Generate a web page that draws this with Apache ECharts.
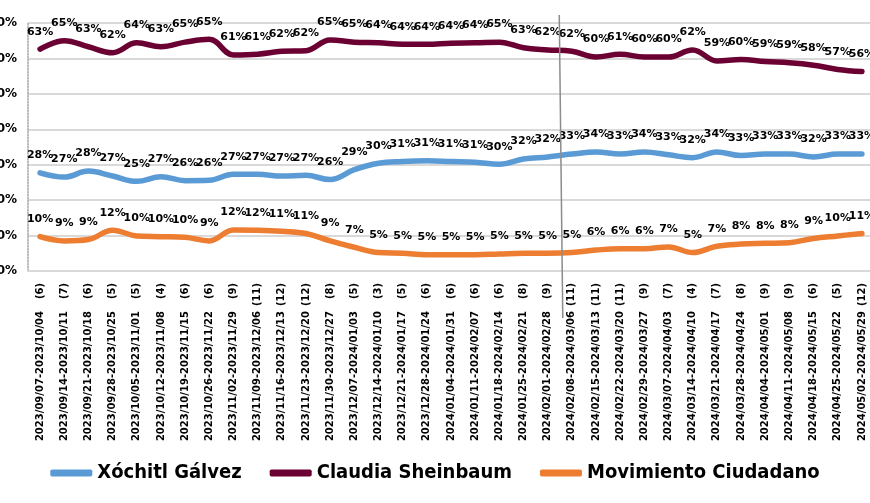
<!DOCTYPE html>
<html>
<head>
<meta charset="utf-8">
<script src="https://cdn.jsdelivr.net/npm/echarts@6/dist/echarts.min.js"></script>
<style>html,body{margin:0;padding:0;background:#fff}#c{width:870px;height:503px}</style>
</head>
<body>
<div id="c"></div>
<script>
const periods = ["2023/09/07-2023/10/04","2023/09/14-2023/10/11","2023/09/21-2023/10/18","2023/09/28-2023/10/25","2023/10/05-2023/11/01","2023/10/12-2023/11/08","2023/10/19-2023/11/15","2023/10/26-2023/11/22","2023/11/02-2023/11/29","2023/11/09-2023/12/06","2023/11/16-2023/12/13","2023/11/23-2023/12/20","2023/11/30-2023/12/27","2023/12/07-2024/01/03","2023/12/14-2024/01/10","2023/12/21-2024/01/17","2023/12/28-2024/01/24","2024/01/04-2024/01/31","2024/01/11-2024/02/07","2024/01/18-2024/02/14","2024/01/25-2024/02/21","2024/02/01-2024/02/28","2024/02/08-2024/03/06","2024/02/15-2024/03/13","2024/02/22-2024/03/20","2024/02/29-2024/03/27","2024/03/07-2024/04/03","2024/03/14-2024/04/10","2024/03/21-2024/04/17","2024/03/28-2024/04/24","2024/04/04-2024/05/01","2024/04/11-2024/05/08","2024/04/18-2024/05/15","2024/04/25-2024/05/22","2024/05/02-2024/05/29"];
const counts = [6,7,6,5,5,4,6,6,9,11,12,12,8,5,3,5,6,6,6,6,8,9,11,11,11,9,7,4,7,8,9,9,6,5,12];
const xochitl = [27.7,26.5,28.2,26.8,25.3,26.6,25.5,25.6,27.3,27.3,26.8,27.0,25.8,28.6,30.4,30.9,31.1,30.9,30.7,30.1,31.6,32.2,33.0,33.6,33.0,33.6,32.8,32.0,33.6,32.6,33.0,33.0,32.2,33.0,33.0];
const claudia = [62.6,65.0,63.3,61.6,64.4,63.3,64.6,65.4,61.0,61.2,62.0,62.2,65.2,64.6,64.4,64.0,64.0,64.3,64.4,64.6,63.0,62.4,62.0,60.4,61.2,60.4,60.4,62.4,59.3,59.7,59.1,58.8,58.1,56.9,56.3];
const movimiento = [9.7,8.5,8.9,11.5,9.9,9.7,9.5,8.5,11.6,11.5,11.2,10.6,8.5,6.7,5.2,5.0,4.6,4.6,4.6,4.8,5.0,5.0,5.2,5.9,6.3,6.3,6.8,5.2,7.0,7.6,7.8,8.0,9.2,9.9,10.6];
const yTicks = [0,10,20,30,40,50,60,70];

const chart = echarts.init(document.getElementById('c'));
const lbl = {
  show: true, position: 'top', distance: 12,
  formatter: p => Math.round(p.value) + '%',
  color: '#000', fontFamily: 'DejaVu Sans', fontWeight: 'bold', fontSize: 11
};
function mk(name, data, color) {
  return {
    name, type: 'line', data, smooth: 0.4,
    symbol: 'circle', symbolSize: 0.01, itemStyle: {color},
    lineStyle: {color, width: 5.5, cap: 'round'},
    label: lbl, z: 3
  };
}
chart.setOption({
  animation: false,
  grid: {left: 28, right: -4, top: 23, bottom: 232, containLabel: false, outerBoundsMode: 'none'},
  legend: {
    left: 'center', top: 458, icon: 'roundRect', itemWidth: 42, itemHeight: 7, itemGap: 28,
    textStyle: {fontFamily: 'DejaVu Sans Condensed, sans-serif', fontWeight: 'bold', fontSize: 20, color: '#000'},
    data: ['Xóchitl Gálvez', 'Claudia Sheinbaum', 'Movimiento Ciudadano']
  },
  xAxis: {
    type: 'category', data: periods, boundaryGap: true,
    axisLine: {show: true, lineStyle: {color: '#d9d9d9', width: 2}},
    axisTick: {show: false},
    axisLabel: {
      interval: 0, rotate: 90, margin: 12,
      formatter: (v, i) => '{d|' + v + '}{c|(' + counts[i] + ')}',
      rich: {
        d: {fontFamily: 'DejaVu Sans', fontWeight: 'bold', fontSize: 10, color: '#000'},
        c: {fontFamily: 'DejaVu Sans', fontWeight: 'bold', fontSize: 10, color: '#000', width: 28, align: 'right'}
      }
    }
  },
  yAxis: {
    type: 'value', min: yTicks[0], max: yTicks[yTicks.length - 1], interval: 10,
    axisLine: {show: true, lineStyle: {color: '#a6a6a6', width: 1.5, type: 'dotted'}},
    axisTick: {show: false},
    axisLabel: {formatter: '{value}%', margin: 11, color: '#000', fontFamily: 'DejaVu Sans', fontWeight: 'bold', fontSize: 12},
    splitLine: {show: true, lineStyle: {color: '#d9d9d9', width: 2}}
  },
  series: [
    mk('Xóchitl Gálvez', xochitl, '#5b9bd5'),
    mk('Claudia Sheinbaum', claudia, '#6b0032'),
    mk('Movimiento Ciudadano', movimiento, '#ed7d31')
  ]
});
const xa = chart.convertToPixel({xAxisIndex: 0}, 21);
const xb = chart.convertToPixel({xAxisIndex: 0}, 22);
const xm = (xa + xb) / 2;
chart.setOption({
  graphic: [{
    type: 'line', shape: {x1: xm - 0.5, y1: 15, x2: xm + 3, y2: 318},
    style: {stroke: '#8c8c8c', lineWidth: 1.5}, z: 10
  }]
});
</script>
</body>
</html>
